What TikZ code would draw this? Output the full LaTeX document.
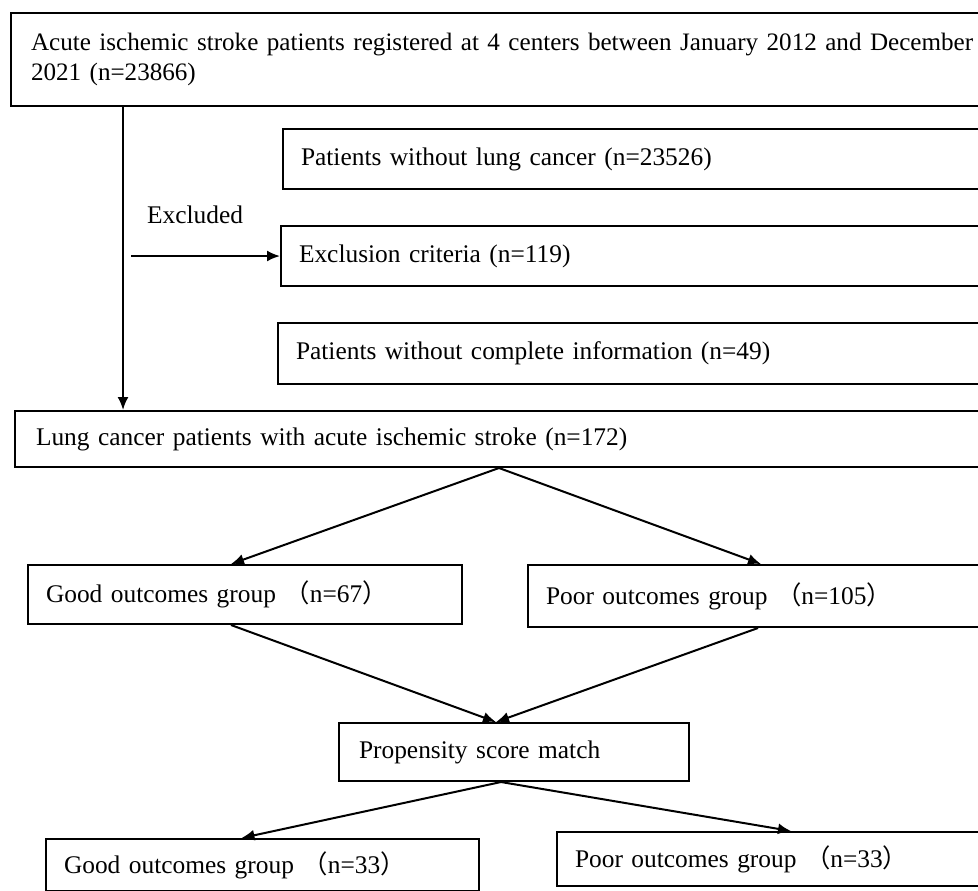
\documentclass[tikz,border=0pt]{standalone}
\usepackage{fontspec}
\setmainfont{Liberation Serif}
\newfontfamily\cjk{Noto Sans CJK SC}
\usetikzlibrary{positioning}
\usetikzlibrary{calc,arrows.meta}

\begin{document}
\begin{tikzpicture}[x=0.5pt,y=-0.5pt,
    box/.style={draw, line width=1pt, anchor=north west, align=left, inner xsep=9pt, inner ysep=0pt},
    arr/.style={-{Latex[length=6.5pt,width=5.5pt]}, line width=1pt},
    font=\fontsize{12.7}{15}\selectfont]
    \clip (0,0) rectangle (978,890);

    \node(top) [box, minimum height=46.5pt, text width=600pt, inner xsep=10pt] at (10,12) {\fontsize{12.55}{15}\selectfont Acute ischemic stroke patients registered at 4 centers between January 2012 and December\\2021 (n=23866)\par\vspace{13pt}};

    \node(nolung) [box, minimum height=30pt, text width=600pt] at (282,128) {Patients without lung cancer (n=23526)};
    \node(excl) [box, minimum height=30pt, text width=600pt] at (280,225) {Exclusion criteria (n=119)};
    \node(noinfo) [box, minimum height=30.5pt, text width=600pt] at (277,322) {Patients without complete information (n=49)};
    \node(exlabel) at (195,215) {Excluded};

    \node(lung) [box, minimum height=28pt, text width=463pt, inner xsep=10.5pt] at (14,410) {Lung cancer patients with acute ischemic stroke (n=172)};

    \node(good1) [box, minimum height=29.5pt, text width=199pt] at (27,564) {Good outcomes group {\cjk （}n=67{\cjk ）}};
    \node(poor1) [box, minimum height=31pt, text width=215pt] at (527,564) {Poor outcomes group {\cjk （}n=105{\cjk ）}};

    \node(prop) [box, minimum height=29pt, text width=155pt, inner xsep=10pt] at (338,722) {Propensity score match};

    \node(good2) [box, minimum height=26pt, text width=198.5pt, inner xsep=9pt] at (45,838) {Good outcomes group {\cjk （}n=33{\cjk ）}};
    \node(poor2) [box, minimum height=27pt, text width=216pt] at (556,831) {Poor outcomes group {\cjk （}n=33{\cjk ）}};

    % excluded branch
    \draw[arr] ([xshift=56.5pt]top.south west) -- ([xshift=56.5pt]top.south west |- lung.north);
    \draw[arr] ([xshift=-74.5pt]excl.west) -- (excl.west);

    \draw[arr] (lung.south) -- ([xshift=-7pt]good1.north);
    \draw[arr] (lung.south) -- (poor1.north);

    \draw[arr] ([xshift=-7pt]good1.south) -- ([xshift=-9pt]prop.north);
    \draw[arr] ([xshift=-1.5pt]poor1.south) -- ([xshift=-9pt]prop.north);

    \draw[arr] ([xshift=-6.5pt]prop.south) -- ([xshift=-10.5pt]good2.north);
    \draw[arr] ([xshift=-6.5pt]prop.south) -- (poor2.north);
\end{tikzpicture}
\end{document}
